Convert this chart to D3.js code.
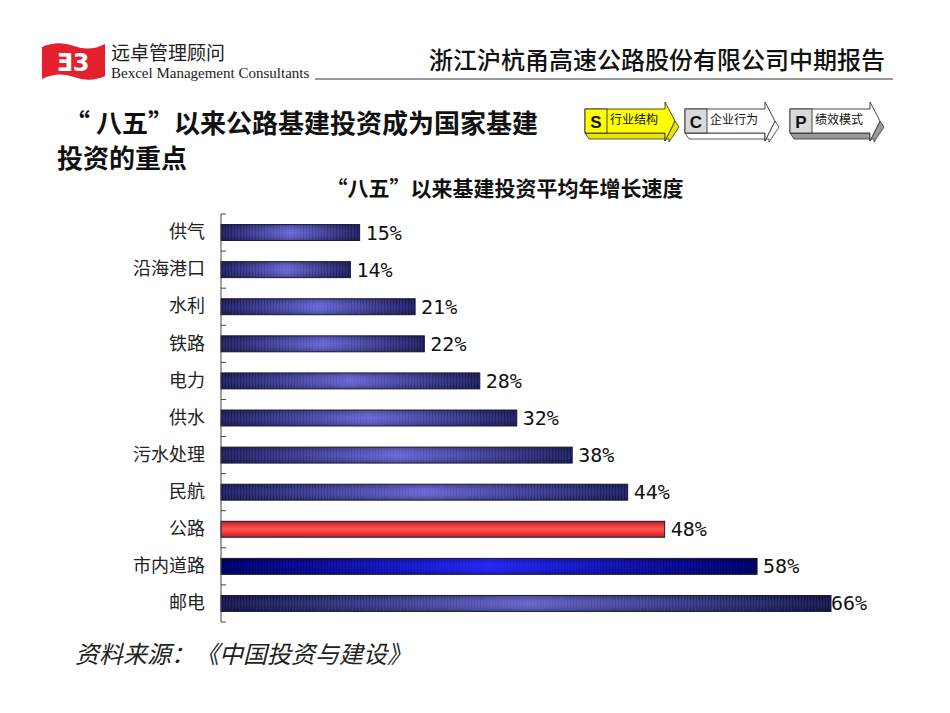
<!DOCTYPE html>
<html><head><meta charset="utf-8">
<script src="https://cdn.jsdelivr.net/npm/d3@7"></script>
<style>
html,body{margin:0;padding:0;background:#fff;}
svg{display:block;}
</style></head>
<body>
<svg id="c" width="950" height="713"></svg>
<script>
const categories = ["供气","沿海港口","水利","铁路","电力","供水","污水处理","民航","公路","市内道路","邮电"];
const values = [15,14,21,22,28,32,38,44,48,58,66];
const valueLabels = ["15%","14%","21%","22%","28%","32%","38%","44%","48%","58%","66%"];
const highlight = "公路";
const scpSteps = [{k:"S",t:"行业结构"},{k:"C",t:"企业行为"},{k:"P",t:"绩效模式"}];

const svg = d3.select("#c");
const defs = svg.append("defs");
const CJK = "'Noto Sans CJK SC','Noto Sans',sans-serif";

// ---------- header ----------
const logo = svg.append("g");
logo.append("path")
  .attr("d","M42,47 Q58,40 74,46 Q90,52 105,44 L105,76 Q90,83 74,77 Q58,71 42,79 Z")
  .attr("fill","#e3202c");
logo.append("text").attr("x",73).attr("y",71).attr("text-anchor","middle")
  .attr("font-family","'DejaVu Sans',sans-serif").attr("font-weight","bold")
  .attr("font-size",24).attr("fill","#fff").text("Ǝ3");
svg.append("text").attr("x",111).attr("y",60)
  .attr("font-family",CJK).attr("font-size",19).attr("fill","#222").text("远卓管理顾问");
svg.append("text").attr("x",111).attr("y",78)
  .attr("font-family","'Liberation Serif',serif").attr("font-size",15).attr("fill","#222")
  .text("Bexcel Management Consultants");
svg.append("line").attr("x1",315).attr("x2",893).attr("y1",79).attr("y2",79)
  .attr("stroke","#777").attr("stroke-width",1.6);
svg.append("text").attr("x",885).attr("y",69).attr("text-anchor","end")
  .attr("font-family",CJK).attr("font-size",24).attr("font-weight",500).attr("fill","#111")
  .text("浙江沪杭甬高速公路股份有限公司中期报告");

// main title
svg.append("text").attr("x",64).attr("y",133)
  .attr("font-family",CJK).attr("font-size",26).attr("font-weight","bold").attr("fill","#111")
  .text("“ 八五”以来公路基建投资成为国家基建");
svg.append("text").attr("x",57).attr("y",168)
  .attr("font-family",CJK).attr("font-size",26).attr("font-weight","bold").attr("fill","#111")
  .text("投资的重点");

// SCP arrows
const scpX = [585, 685, 790];
const scpFill = ["#ffff00","#ffffff","#ffffff"];
const scpBox = ["#ffff00","#d9d9d9","#d9d9d9"];
const scpBottom = ["#e6e600","#ffffff","#999999"];
scpSteps.forEach((s,i)=>{
  const x0 = scpX[i], top=109, bot=133, bodyEnd=x0+80, tip=x0+90, mid=121;
  const g = svg.append("g");
  g.append("path").attr("d",`M${x0},${bot} L${x0+4},${bot+6} L${bodyEnd+4},${bot+6} L${bodyEnd+4},${bot+9} L${tip+4},${mid+6} L${tip},${mid} L${bodyEnd},${bot+8} L${bodyEnd},${bot} Z`)
    .attr("fill",scpBottom[i]).attr("stroke","#333").attr("stroke-width",0.8);
  g.append("path").attr("d",`M${x0},${top} L${bodyEnd},${top} L${bodyEnd},${top-7} L${tip},${mid} L${bodyEnd},${bot+8} L${bodyEnd},${bot} L${x0},${bot} Z`)
    .attr("fill",scpFill[i]).attr("stroke","#333").attr("stroke-width",0.9);
  g.append("rect").attr("x",x0).attr("y",top).attr("width",22).attr("height",bot-top)
    .attr("fill",scpBox[i]).attr("stroke","#333").attr("stroke-width",0.9);
  g.append("text").attr("x",x0+11).attr("y",bot-5).attr("text-anchor","middle")
    .attr("font-family","'Liberation Sans',Arial,sans-serif").attr("font-weight","bold")
    .attr("font-size",17).attr("fill","#111").text(s.k);
  g.append("text").attr("x",x0+25).attr("y",top+15)
    .attr("font-family",CJK).attr("font-size",12).attr("fill","#111").text(s.t);
});

// chart title
svg.append("text").attr("x",505).attr("y",196).attr("text-anchor","middle")
  .attr("font-family",CJK).attr("font-size",21).attr("font-weight","bold").attr("fill","#111")
  .text("“八五”以来基建投资平均年增长速度");

// ---------- chart ----------
const x = d3.scaleLinear().domain([0,66]).range([221,831]);
const y = d3.scaleBand().domain(categories).range([214,622]).paddingInner(0.57).paddingOuter(0.285);

const pat = defs.append("pattern").attr("id","stripes").attr("patternUnits","userSpaceOnUse")
  .attr("width",3).attr("height",10);
pat.append("rect").attr("x",0).attr("y",0).attr("width",1).attr("height",10).attr("fill","#000").attr("opacity",0.35);

const vshade = defs.append("linearGradient").attr("id","vshade").attr("x1",0).attr("x2",0).attr("y1",0).attr("y2",1);
[[0,0.45],[0.3,0.1],[0.5,0],[0.7,0.1],[1,0.45]].forEach(([o,a])=>vshade.append("stop").attr("offset",o).attr("stop-color","#000").attr("stop-opacity",a));

const stripeMask = defs.append("linearGradient").attr("id","smaskg").attr("x1",0).attr("x2",1);
[[0,1],[0.35,0.35],[0.5,0.1],[0.65,0.35],[1,1]].forEach(([o,a])=>stripeMask.append("stop").attr("offset",o).attr("stop-color","#fff").attr("stop-opacity",a));

function colorsFor(c){
  if(c==="市内道路") return ["#00007e","#2828ff"];
  if(c==="邮电") return ["#202060","#6a6ad0"];
  return ["#2a2a76","#6c6cdc"];
}
categories.forEach((c,i)=>{
  const g = defs.append("linearGradient").attr("id","hg"+i).attr("x1",0).attr("x2",1);
  if(c===highlight){
    g.attr("x2",0).attr("y2",1);
    [[0,"#b81c1c"],[0.45,"#ff5252"],[0.6,"#ff4a4a"],[1,"#b81c1c"]].forEach(([o,col])=>g.append("stop").attr("offset",o).attr("stop-color",col));
  } else {
    const [e,m] = colorsFor(c);
    [[0,e],[0.5,m],[1,e]].forEach(([o,col])=>g.append("stop").attr("offset",o).attr("stop-color",col));
  }
});

const bars = svg.append("g");
categories.forEach((c,i)=>{
  const bx = x(0), bw = x(values[i])-x(0), by = y(c), bh = y.bandwidth();
  bars.append("rect").attr("x",bx).attr("y",by).attr("width",bw).attr("height",bh)
    .attr("fill",`url(#hg${i})`);
  if(c!==highlight){
    const m = defs.append("mask").attr("id","m"+i).attr("maskUnits","userSpaceOnUse")
      .attr("x",bx).attr("y",by).attr("width",bw).attr("height",bh);
    m.append("rect").attr("x",bx).attr("y",by).attr("width",bw).attr("height",bh).attr("fill","url(#smaskg)");
    bars.append("rect").attr("x",bx).attr("y",by).attr("width",bw).attr("height",bh)
      .attr("fill","url(#stripes)").attr("mask",`url(#m${i})`);
    bars.append("rect").attr("x",bx).attr("y",by).attr("width",bw).attr("height",bh)
      .attr("fill","url(#vshade)").attr("opacity",0.6);
  }
  bars.append("rect").attr("x",bx).attr("y",by).attr("width",bw).attr("height",bh)
    .attr("fill","none").attr("stroke","#1a1a33").attr("stroke-width",1);
});

// axis
const axisG = svg.append("g").attr("transform",`translate(${x(0)},0)`)
  .call(d3.axisLeft(y).tickSize(0).tickPadding(16));
axisG.select(".domain").remove();
axisG.selectAll("text").attr("font-family",CJK).attr("font-size",18).attr("fill","#222");
const [r0,r1] = y.range();
svg.append("line").attr("x1",x(0)).attr("x2",x(0)).attr("y1",r0).attr("y2",r1).attr("stroke","#444").attr("stroke-width",1);
d3.range(categories.length+1).forEach(k=>{
  const ty = r0 + k*y.step();
  svg.append("line").attr("x1",x(0)).attr("x2",x(0)+5).attr("y1",ty).attr("y2",ty).attr("stroke","#444");
});

// value labels
svg.append("g").selectAll("text").data(categories).join("text")
  .attr("x",(c,i)=>x(values[i])+ (i===categories.length-1?0:6))
  .attr("y",c=>y(c)+y.bandwidth()/2+7)
  .attr("font-family","'DejaVu Sans Mono',monospace").attr("font-size",20).attr("fill","#111")
  .text((c,i)=>valueLabels[i]);

// source
svg.append("text").attr("x",75).attr("y",663)
  .attr("font-family",CJK).attr("font-size",24).attr("font-style","italic").attr("fill","#222")
  .text("资料来源：《中国投资与建设》");
</script>
</body></html>
